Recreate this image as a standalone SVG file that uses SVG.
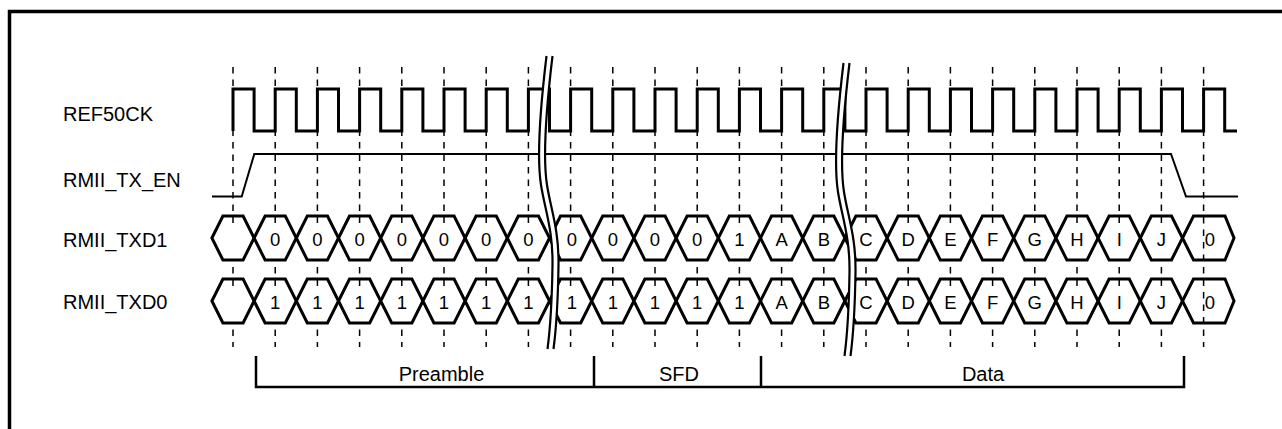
<svg xmlns="http://www.w3.org/2000/svg" xmlns:xlink="http://www.w3.org/1999/xlink" width="1282" height="429" viewBox="0 0 1282 429">
<style>
.lbl{font-family:"Liberation Sans",Arial,sans-serif;font-size:20px;fill:#000}
.hxt{font-family:"Liberation Sans",Arial,sans-serif;font-size:18.5px;fill:#000;text-anchor:middle}
.dash{stroke:#000;stroke-width:1.5;stroke-dasharray:6.5 6;fill:none}
.tick{stroke:#000;stroke-width:1.5;fill:none}
.hex{fill:#fff;stroke:#000;stroke-width:3;stroke-linejoin:miter}
.wave{fill:none;stroke:#000;stroke-width:3;stroke-linejoin:miter}
.thin{fill:none;stroke:#000;stroke-width:2}
.brk{fill:#fff;stroke:none}
.brkl{fill:none;stroke:#000;stroke-width:2.2}
</style>
<defs>
<polygon id="hx" points="0,0 11,-22 31.2,-22 42.2,0 31.2,22 11,22"/>
<path id="bl" d="M546.5,56 C540,110 537,160 541,185 C545,210 553,230 552.5,265 C552,300 550,330 547.5,349"/>
</defs>
<rect x="9.5" y="11.5" width="1400" height="500" fill="none" stroke="#000" stroke-width="3.5"/>
<g id="labels">
<text class="lbl" x="63" y="120.5">REF50CK</text>
<text class="lbl" x="63" y="186.5">RMII_TX_EN</text>
<text class="lbl" x="63" y="247">RMII_TXD1</text>
<text class="lbl" x="63" y="309">RMII_TXD0</text>
</g>
<g id="gridlines">
<path class="dash" d="M233,67V347M275.2,67V347M317.4,67V347M359.6,67V347M401.8,67V347M444,67V347M486.2,67V347M528.4,67V347M570.6,67V347M612.8,67V347M655,67V347M697.2,67V347M739.4,67V347M781.6,67V347M823.8,67V347M866,67V347M908.2,67V347M950.4,67V347M992.6,67V347M1034.8,67V347M1077,67V347M1119.2,67V347M1161.4,67V347M1203.6,67V347"/>
</g>
<g id="REF50CK">
<path class="wave" d="M233,131 V89 H254.1 V131 H275.2 V89 H296.3 V131 H317.4 V89 H338.5 V131 H359.6 V89 H380.7 V131 H401.8 V89 H422.9 V131 H444 V89 H465.1 V131 H486.2 V89 H507.3 V131 H528.4 V89 H549.5 V131 H570.6 V89 H591.7 V131 H612.8 V89 H633.9 V131 H655 V89 H676.1 V131 H697.2 V89 H718.3 V131 H739.4 V89 H760.5 V131 H781.6 V89 H802.7 V131 H823.8 V89 H844.9 V131 H866 V89 H887.1 V131 H908.2 V89 H929.3 V131 H950.4 V89 H971.5 V131 H992.6 V89 H1013.7 V131 H1034.8 V89 H1055.9 V131 H1077 V89 H1098.1 V131 H1119.2 V89 H1140.3 V131 H1161.4 V89 H1182.5 V131 H1203.6 V89 H1224.7 V131 H1237"/>
</g>
<g id="RMII_TX_EN">
<path class="thin" d="M212,196.5 H241.7 L254.3,154 H1171 L1186,196.5 H1238"/>
</g>
<g id="RMII_TXD1">
<g class="hex">
<use xlink:href="#hx" x="211.9" y="238"/><use xlink:href="#hx" x="254.1" y="238"/><use xlink:href="#hx" x="296.3" y="238"/><use xlink:href="#hx" x="338.5" y="238"/><use xlink:href="#hx" x="380.7" y="238"/><use xlink:href="#hx" x="422.9" y="238"/><use xlink:href="#hx" x="465.1" y="238"/><use xlink:href="#hx" x="507.3" y="238"/><use xlink:href="#hx" x="549.5" y="238"/><use xlink:href="#hx" x="591.7" y="238"/><use xlink:href="#hx" x="633.9" y="238"/><use xlink:href="#hx" x="676.1" y="238"/><use xlink:href="#hx" x="718.3" y="238"/><use xlink:href="#hx" x="760.5" y="238"/><use xlink:href="#hx" x="802.7" y="238"/><use xlink:href="#hx" x="844.9" y="238"/><use xlink:href="#hx" x="887.1" y="238"/><use xlink:href="#hx" x="929.3" y="238"/><use xlink:href="#hx" x="971.5" y="238"/><use xlink:href="#hx" x="1013.7" y="238"/><use xlink:href="#hx" x="1055.9" y="238"/><use xlink:href="#hx" x="1098.1" y="238"/><use xlink:href="#hx" x="1140.3" y="238"/>
</g>
<polygon points="1182.5,238 1193.5,216 1225,216 1234,238 1225,260 1193.5,260" fill="none" stroke="#000" stroke-width="3"/>
<g class="hxt">
<text x="275.2" y="246">0</text><text x="317.4" y="246">0</text><text x="359.6" y="246">0</text><text x="401.8" y="246">0</text><text x="444" y="246">0</text><text x="486.2" y="246">0</text><text x="528.4" y="246">0</text><text x="572" y="246">0</text><text x="612.8" y="246">0</text><text x="655" y="246">0</text><text x="697.2" y="246">0</text><text x="739.4" y="246">1</text><text x="781.6" y="246">A</text><text x="823.8" y="246">B</text><text x="866" y="246">C</text><text x="908.2" y="246">D</text><text x="950.4" y="246">E</text><text x="992.6" y="246">F</text><text x="1034.8" y="246">G</text><text x="1077" y="246">H</text><text x="1119.2" y="246">I</text><text x="1161.4" y="246">J</text><text x="1210" y="246">0</text>
</g>
</g>
<g id="RMII_TXD0">
<g class="hex">
<use xlink:href="#hx" x="211.9" y="301"/><use xlink:href="#hx" x="254.1" y="301"/><use xlink:href="#hx" x="296.3" y="301"/><use xlink:href="#hx" x="338.5" y="301"/><use xlink:href="#hx" x="380.7" y="301"/><use xlink:href="#hx" x="422.9" y="301"/><use xlink:href="#hx" x="465.1" y="301"/><use xlink:href="#hx" x="507.3" y="301"/><use xlink:href="#hx" x="549.5" y="301"/><use xlink:href="#hx" x="591.7" y="301"/><use xlink:href="#hx" x="633.9" y="301"/><use xlink:href="#hx" x="676.1" y="301"/><use xlink:href="#hx" x="718.3" y="301"/><use xlink:href="#hx" x="760.5" y="301"/><use xlink:href="#hx" x="802.7" y="301"/><use xlink:href="#hx" x="844.9" y="301"/><use xlink:href="#hx" x="887.1" y="301"/><use xlink:href="#hx" x="929.3" y="301"/><use xlink:href="#hx" x="971.5" y="301"/><use xlink:href="#hx" x="1013.7" y="301"/><use xlink:href="#hx" x="1055.9" y="301"/><use xlink:href="#hx" x="1098.1" y="301"/><use xlink:href="#hx" x="1140.3" y="301"/>
</g>
<polygon points="1182.5,301 1193.5,279 1225,279 1234,301 1225,323 1193.5,323" fill="none" stroke="#000" stroke-width="3"/>
<g class="hxt">
<text x="275.2" y="309">1</text><text x="317.4" y="309">1</text><text x="359.6" y="309">1</text><text x="401.8" y="309">1</text><text x="444" y="309">1</text><text x="486.2" y="309">1</text><text x="528.4" y="309">1</text><text x="572" y="309">1</text><text x="612.8" y="309">1</text><text x="655" y="309">1</text><text x="697.2" y="309">1</text><text x="739.4" y="309">1</text><text x="781.6" y="309">A</text><text x="823.8" y="309">B</text><text x="866" y="309">C</text><text x="908.2" y="309">D</text><text x="950.4" y="309">E</text><text x="992.6" y="309">F</text><text x="1034.8" y="309">G</text><text x="1077" y="309">H</text><text x="1119.2" y="309">I</text><text x="1161.4" y="309">J</text><text x="1210" y="309">0</text>
</g>
</g>
<g id="ticks">
<path class="tick" d="M233,217V223M275.2,217V223M317.4,217V223M359.6,217V223M401.8,217V223M444,217V223M486.2,217V223M528.4,217V223M570.6,217V223M612.8,217V223M655,217V223M697.2,217V223M739.4,217V223M781.6,217V223M823.8,217V223M866,217V223M908.2,217V223M950.4,217V223M992.6,217V223M1034.8,217V223M1077,217V223M1119.2,217V223M1161.4,217V223M233,280V286M275.2,280V286M317.4,280V286M359.6,280V286M401.8,280V286M444,280V286M486.2,280V286M528.4,280V286M570.6,280V286M612.8,280V286M655,280V286M697.2,280V286M739.4,280V286M781.6,280V286M823.8,280V286M866,280V286M908.2,280V286M950.4,280V286M992.6,280V286M1034.8,280V286M1077,280V286M1119.2,280V286M1161.4,280V286"/>
</g>
<g id="break1">
<path class="brk" d="M546.5,56 C540,110 537,160 541,185 C545,210 553,230 552.5,265 C552,300 550,330 547.5,349 L553.5,349 C556,330 558,300 558.5,265 C559,230 551,210 547,185 C543,160 546,110 552.5,56 Z"/>
<use xlink:href="#bl" class="brkl"/>
<use xlink:href="#bl" class="brkl" x="6"/>
</g>
<g id="break2" transform="translate(297,7)">
<path class="brk" d="M546.5,56 C540,110 537,160 541,185 C545,210 553,230 552.5,265 C552,300 550,330 547.5,349 L553.5,349 C556,330 558,300 558.5,265 C559,230 551,210 547,185 C543,160 546,110 552.5,56 Z"/>
<use xlink:href="#bl" class="brkl"/>
<use xlink:href="#bl" class="brkl" x="6"/>
</g>
<g id="brackets">
<path fill="none" stroke="#000" stroke-width="2.5" d="M256,356 V387 H1184 V356 M594,356 V387 M761,356 V387"/>
<text class="lbl" x="441.5" y="381" text-anchor="middle">Preamble</text>
<text class="lbl" x="679" y="381" text-anchor="middle">SFD</text>
<text class="lbl" x="983" y="381" text-anchor="middle">Data</text>
</g>
</svg>
